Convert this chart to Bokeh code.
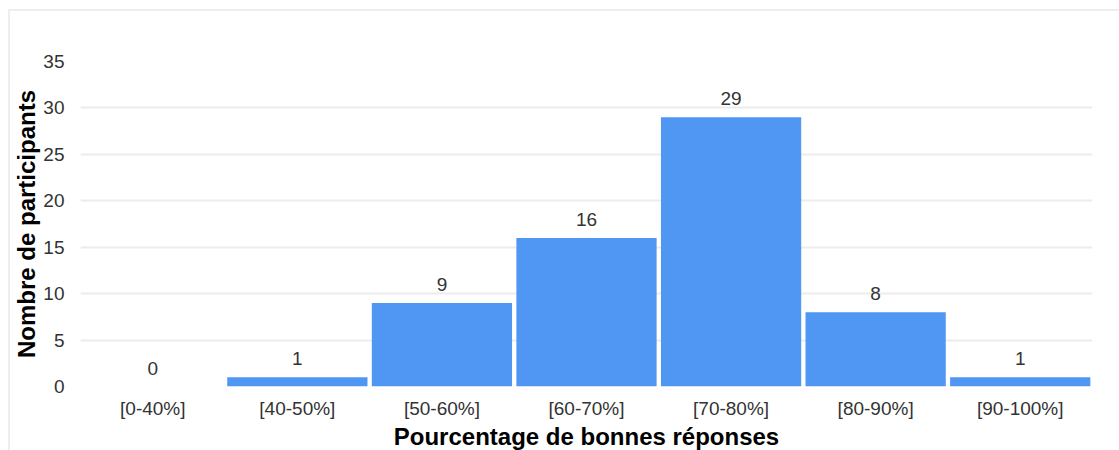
from bokeh.plotting import figure
from bokeh.models import ColumnDataSource, Range1d, FixedTicker
from bokeh.embed import file_html
from bokeh.resources import INLINE
from bokeh.core.properties import value

categories = ["[0-40%]", "[40-50%]", "[50-60%]", "[60-70%]", "[70-80%]", "[80-90%]", "[90-100%]"]
counts = [0, 1, 9, 16, 29, 8, 1]
y_ticks = [0, 5, 10, 15, 20, 25, 30, 35]

src = ColumnDataSource(dict(cat=categories, n=counts, lab=[str(c) for c in counts]))

p = figure(x_range=categories, y_range=Range1d(0, 35), width=1111, height=441,
           output_backend="svg", toolbar_location=None,
           min_border_left=66, min_border_right=29, min_border_top=50, min_border_bottom=64)
p.styles = {"border-top": "2px solid #eeeeee", "border-left": "2px solid #eeeeee",
            "margin-left": "8px", "margin-top": "9px"}

FONT = "Liberation Sans"

p.vbar(x="cat", top="n", width=0.97, source=src, color="#5096f3", line_color=None)
p.text(x="cat", y="n", text="lab", source=src, text_align="center", text_baseline="bottom",
       y_offset=-12, text_font=value(FONT), text_font_size="19px", text_color="#333333")

p.outline_line_color = None
p.background_fill_color = "white"
p.border_fill_color = "white"

p.xgrid.grid_line_color = None
p.ygrid.grid_line_color = "#ececec"
p.ygrid.grid_line_width = 2
p.yaxis.ticker = FixedTicker(ticks=y_ticks)

for ax in (p.xaxis[0], p.yaxis[0]):
    ax.axis_line_color = None
    ax.major_tick_line_color = None
    ax.minor_tick_line_color = None
    ax.major_tick_out = 0
    ax.major_tick_in = 0
    ax.major_label_text_font = FONT
    ax.major_label_text_font_size = "19px"
    ax.major_label_text_color = "#333333"
    ax.axis_label_text_font = FONT
    ax.axis_label_text_font_size = "24px"
    ax.axis_label_text_font_style = "bold"
    ax.axis_label_text_color = "#000000"

p.xaxis.axis_label = "Pourcentage de bonnes réponses"
p.yaxis.axis_label = "Nombre de participants"
p.xaxis.major_label_standoff = 11
p.xaxis.axis_label_standoff = 1
p.yaxis.major_label_standoff = 16
p.yaxis.axis_label_standoff = 0
p.x_range.range_padding = 0

open("out.html", "w").write(file_html(p, INLINE))
